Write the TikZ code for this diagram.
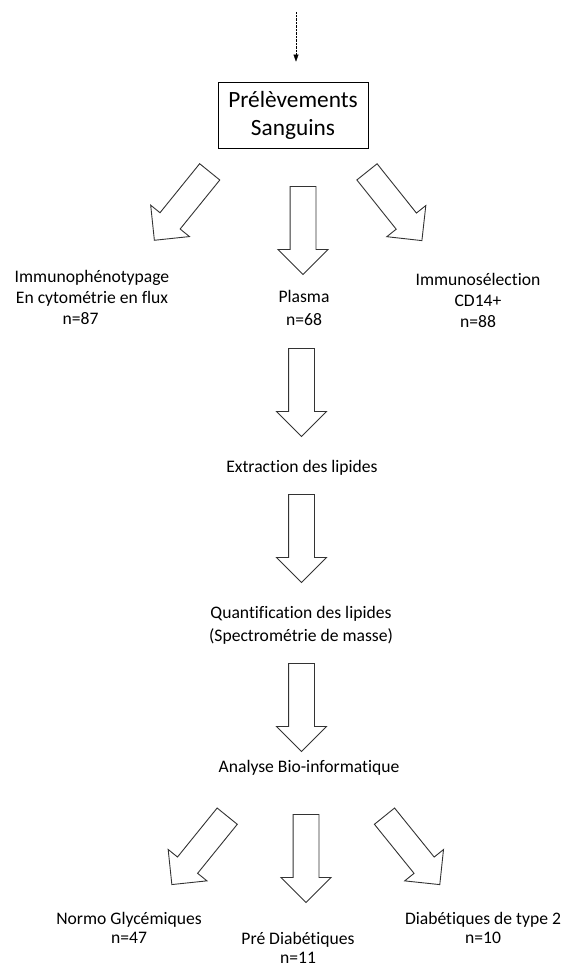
\documentclass[tikz,border=0pt]{standalone}
\usepackage{fontspec}
\setmainfont{Carlito}[Ligatures=NoCommon]
\usetikzlibrary{arrows.meta,shapes.arrows}

\begin{document}
\begin{tikzpicture}[x=1pt,y=-1pt,
  label/.style={align=center,inner sep=0pt,anchor=north,
    font=\fontsize{17.6}{21}\selectfont},
  fat/.style={single arrow,draw=black!80,line width=0.9pt,fill=white,
    minimum height=88pt,minimum width=49pt,single arrow head extend=12pt,
    inner xsep=0pt,inner ysep=12.5pt,anchor=tail,sloped,allow upside down}]
  \useasboundingbox (0,0) rectangle (563,967);

  % sample box and incoming dotted arrow
  \node[draw,line width=0.8pt,minimum width=150pt,minimum height=66pt,
    align=center,font=\fontsize{23.3}{28}\selectfont] (box) at (293,115)
    {Prélèvements\\Sanguins};
  \coordinate (src) at (296,12);
  \draw[densely dotted,-{Triangle[width=5pt,length=7pt]},shorten >=20pt]
    (src) -- (src |- box.north);

  % first split
  \node[label] (imm)    at (92,270.5)  {Immunophénotypage\\En cytométrie en flux\\n=87\hspace*{23pt}};
  \node[label] (plasma) at (304,290.5) {Plasma\\[2pt]n=68};
  \node[label] (cd)     at (478,273.5) {Immunosélection\\CD14+\\n=88};

  % lipid pipeline
  \node[label] (extr)  at (302,460.5) {Extraction des lipides};
  \node[label] (quant) at (301,606.5) {Quantification des lipides\\[2pt](Spectrométrie de masse)};
  \node[label] (bio)   at (309,760.5) {Analyse Bio-informatique};

  % groups
  \node[label] (normo) at (129,912.5) {Normo Glycémiques\\[-2pt]n=47};
  \node[label] (pre)   at (298,932.5) {Pré Diabétiques\\[-2pt]n=11};
  \node[label] (diab)  at (483,912.5) {Diabétiques de type 2\\[-2pt]n=10};

  % block arrows: tail and aim of each
  \coordinate (a1-t) at (210,171.5);   \coordinate (a1-h) at (155,239.5);
  \coordinate (a2-t) at (303,186);     \coordinate (a2-h) at (303,274);
  \coordinate (a3-t) at (366.7,171.5); \coordinate (a3-h) at (421,239.5);
  \coordinate (a4-t) at (301.5,348);   \coordinate (a4-h) at (301.5,437);
  \coordinate (a5-t) at (301.5,494);   \coordinate (a5-h) at (301.5,581);
  \coordinate (a6-t) at (301.5,663);   \coordinate (a6-h) at (301.5,752);
  \coordinate (a7-t) at (227.5,815.8); \coordinate (a7-h) at (172.3,884);
  \coordinate (a8-t) at (306,814);     \coordinate (a8-h) at (306,903);
  \coordinate (a9-t) at (384.2,815.8); \coordinate (a9-h) at (439.3,884);
  \foreach \a in {a1,a2,a3,a4,a5,a6,a7,a8,a9}
    \path (\a-t) -- (\a-h) node[fat,pos=0] {};
\end{tikzpicture}
\end{document}
